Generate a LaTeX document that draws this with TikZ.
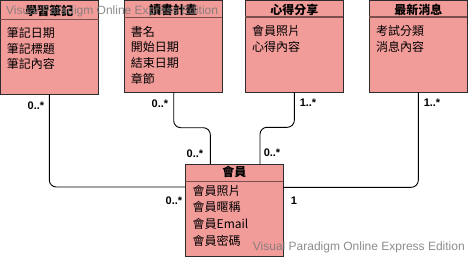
\documentclass[tikz,border=0pt]{standalone}
\usepackage{fontspec}
\setmainfont{Liberation Sans}
\newfontfamily\cjk{Noto Sans CJK TC}
\usetikzlibrary{calc}
\definecolor{classfill}{RGB}{242,156,154}
\definecolor{classedge}{RGB}{45,45,45}
\definecolor{sepcol}{RGB}{125,78,78}
\definecolor{markcol}{RGB}{120,120,120}
\tikzset{
  classbox/.style={draw=classedge, fill=classfill, line width=1pt, inner sep=0pt, outer sep=0pt, anchor=north west},
  sepline/.style={draw=sepcol, line width=1.4pt},
  titletext/.style={font=\cjk\bfseries\fontsize{12}{12}\selectfont, inner sep=0pt},
  attrtext/.style={font=\cjk\fontsize{12}{12}\selectfont, inner sep=0pt, anchor=west},
  conn/.style={draw=black, line width=0.9pt, rounded corners=7pt},
  mult/.style={font=\bfseries\fontsize{11}{11}\selectfont, inner sep=0pt},
  watermark/.style={font=\fontsize{12}{12}\selectfont, text=markcol, text opacity=0.85, inner sep=0pt, anchor=west}
}
\begin{document}
\begin{tikzpicture}[x=1pt,y=-1pt]
\useasboundingbox (0,0) rectangle (470,259);

% class boxes
\node[classbox, minimum width=98.7pt, minimum height=93pt] (A) at (0,1) {};
\node[classbox, minimum width=97.7pt, minimum height=92pt] (B) at (124.3,0.5) {};
\node[classbox, minimum width=98pt, minimum height=92pt] (C) at (245.3,0.5) {};
\node[classbox, minimum width=98pt, minimum height=92pt] (D) at (369.3,0.5) {};
\node[classbox, minimum width=98pt, minimum height=92pt] (M) at (185.3,164) {};

% title separators
\draw[sepline] ([yshift=-18.3pt]A.north west) -- ([yshift=-18.3pt]A.north east);
\draw[sepline] ([yshift=-17.2pt]B.north west) -- ([yshift=-17.2pt]B.north east);
\draw[sepline] ([yshift=-16.5pt]C.north west) -- ([yshift=-16.5pt]C.north east);
\draw[sepline] ([yshift=-16.5pt]D.north west) -- ([yshift=-16.5pt]D.north east);
\draw[sepline] ([yshift=-17.7pt]M.north west) -- ([yshift=-17.7pt]M.north east);

% titles
\node[titletext] (At) at (49.3,11) {學習筆記};
\node[titletext] (Bt) at (173.2,10) {讀書計畫};
\node[titletext] (Ct) at (294.3,9.5) {心得分享};
\node[titletext] (Dt) at (418.3,9.5) {最新消息};
\node[titletext] (Mt) at (234.3,172) {會員};

% attributes
\node[attrtext] (A1) at (6.7,32.5) {筆記日期};
\node[attrtext] (A2) at (6.7,48.5) {筆記標題};
\node[attrtext] (A3) at (6.7,64.3) {筆記內容};

\node[attrtext] (B1) at (130.7,31.5) {書名};
\node[attrtext] (B2) at (130.7,47.2) {開始日期};
\node[attrtext] (B3) at (130.7,62.9) {結束日期};
\node[attrtext] (B4) at (130.7,78.7) {章節};

\node[attrtext] (C1) at (252,31.3) {會員照片};
\node[attrtext] (C2) at (252,47.3) {心得內容};

\node[attrtext] (D1) at (376,31.3) {考試分類};
\node[attrtext] (D2) at (376,47.3) {消息內容};

\node[attrtext] (M1) at (192.5,190.7) {會員照片};
\node[attrtext] (M2) at (192.5,207.3) {會員暱稱};
\node[attrtext] (M3) at (192.5,224) {會員Email};
\node[attrtext] (M4) at (192.5,240.8) {會員密碼};

% associations
\draw[conn] ([xshift=49.3pt]A.south west) |- ([yshift=-23pt]M.north west);
\draw[conn] ([xshift=49.4pt]B.south west) -- ++(0,35.2) -| ([xshift=25pt]M.north west);
\draw[conn] ([xshift=49pt]C.south west) -- ++(0,34.8) -| ([xshift=-23.3pt]M.north east);
\draw[conn] ([xshift=49pt]D.south west) |- ([yshift=-23.3pt]M.north east);

% multiplicities
\node[mult] (L1) at (36,106) {0..*};
\node[mult] (L2) at (160,104) {0..*};
\node[mult] (L3) at (195,154) {0..*};
\node[mult] (L4) at (174,201) {0..*};
\node[mult] (L5) at (272,153) {0..*};
\node[mult] (L6) at (308,103) {1..*};
\node[mult] (L7) at (432,103) {1..*};
\node[mult] (L8) at (294,201) {1};

% edition marks
\node[watermark] (W1) at (6,11) {Visual Paradigm Online Express Edition};
\node[watermark] (W2) at (252.7,247.3) {Visual Paradigm Online Express Edition};
\end{tikzpicture}
\end{document}
